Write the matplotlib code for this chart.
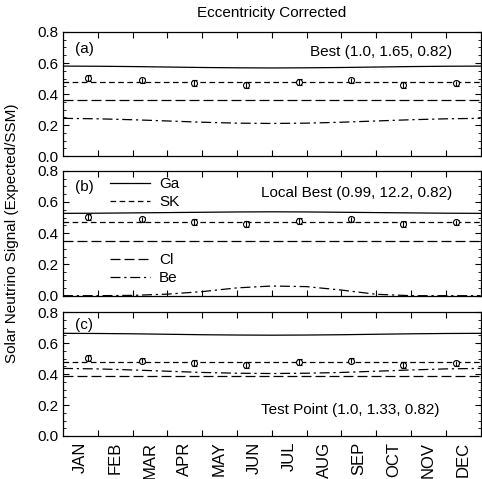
import numpy as np
import matplotlib
matplotlib.use('Agg')
import matplotlib.pyplot as plt
from matplotlib.ticker import MultipleLocator

plt.rcParams['font.family'] = ['Liberation Sans', 'DejaVu Sans']

# Месяцы и сетка по оси X (в месяцах от 1 января)
months = ['JAN', 'FEB', 'MAR', 'APR', 'MAY', 'JUN',
          'JUL', 'AUG', 'SEP', 'OCT', 'NOV', 'DEC']
grid = [0, 1, 2, 3, 4, 5, 6, 7, 8, 9, 10, 11, 12]

# Точки SK (одинаковые на всех панелях)
sk_x = [0.71, 2.26, 3.77, 5.26, 6.77, 8.29, 9.77, 11.29]
sk_y = [0.505, 0.488, 0.471, 0.458, 0.477, 0.488, 0.458, 0.469]
sk_err = [0.018, 0.018, 0.018, 0.018, 0.018, 0.018, 0.018, 0.018]

# (a) Best
ga_a = [0.580, 0.579, 0.577, 0.574, 0.571, 0.569, 0.568, 0.569, 0.571, 0.574, 0.577, 0.579, 0.580]
sk_a = [0.478] * 13
cl_a = [0.360] * 13
be_a = [0.243, 0.240, 0.234, 0.226, 0.218, 0.212, 0.210, 0.212, 0.218, 0.226, 0.234, 0.240, 0.243]

# (b) Local Best
ga_b = [0.527, 0.528, 0.530, 0.532, 0.534, 0.536, 0.537, 0.536, 0.534, 0.532, 0.530, 0.528, 0.527]
sk_b = [0.474] * 13
cl_b = [0.352] * 13
be_b = [0.000, 0.000, 0.002, 0.010, 0.026, 0.050, 0.062, 0.058, 0.036, 0.009, 0.000, 0.000, 0.000]

# (c) Test Point
ga_c = [0.664, 0.663, 0.661, 0.658, 0.655, 0.653, 0.652, 0.653, 0.655, 0.658, 0.661, 0.663, 0.664]
sk_c = [0.477] * 13
cl_c = [0.386] * 13
be_c = [0.437, 0.434, 0.427, 0.419, 0.411, 0.406, 0.404, 0.406, 0.411, 0.419, 0.427, 0.434, 0.437]

panels = [
    ('(a)', 'Best (1.0, 1.65, 0.82)', ga_a, sk_a, cl_a, be_a),
    ('(b)', 'Local Best (0.99, 12.2, 0.82)', ga_b, sk_b, cl_b, be_b),
    ('(c)', 'Test Point (1.0, 1.33, 0.82)', ga_c, sk_c, cl_c, be_c),
]

# Стили линий
st_sk = (0, (4.5, 2.8))
st_cl = (0, (8, 3.2))
st_be = (0, (8, 3.0, 1.8, 3.0))
lw = 0.9
fs = 11

fig = plt.figure(figsize=(4.82, 4.79), dpi=100)
left, right = 0.1307, 0.997
boxes = [(0.6743, 0.9332), (0.3827, 0.6436), (0.0898, 0.3480)]
label_pos = [(0.029, 0.863, 0.933, 0.839),
             (0.029, 0.872, 0.933, 0.819),
             (0.029, 0.897, 0.902, 0.210)]

axes = []
for i, (tag, name, ga, sk, cl, be) in enumerate(panels):
    b, t = boxes[i]
    ax = fig.add_axes([left, b, right - left, t - b])
    axes.append(ax)

    l_ga, = ax.plot(grid, ga, color='black', lw=lw, label='Ga')
    l_sk, = ax.plot(grid, sk, color='black', lw=lw, ls=st_sk, label='SK')
    l_cl, = ax.plot(grid, cl, color='black', lw=lw, ls=st_cl, label='Cl')
    l_be, = ax.plot(grid, be, color='black', lw=lw, ls=st_be, label='Be')

    ax.errorbar(sk_x, sk_y, yerr=sk_err, fmt='o', ms=4.3, mfc='white',
                mec='black', mew=0.8, ecolor='black', elinewidth=0.8,
                capsize=1.8, capthick=0.8, zorder=5)
    # вертикальная черта поверх кружка
    ax.errorbar(sk_x, sk_y, yerr=sk_err, fmt='none', ecolor='black',
                elinewidth=0.8, zorder=6)

    ax.set_xlim(0, 12)
    ax.set_ylim(0, 0.8)
    ax.yaxis.set_major_locator(MultipleLocator(0.2))
    ax.yaxis.set_minor_locator(MultipleLocator(0.05))
    ax.yaxis.set_major_formatter(plt.FormatStrFormatter('%.1f'))

    # Границы месяцев - короткие засечки, подписи - по центрам
    ax.set_xticks(np.arange(1, 12), minor=True)
    ax.set_xticks(np.arange(12) + 0.5)
    if i == 2:
        ax.set_xticklabels(months, rotation=90, fontsize=12)
    else:
        ax.set_xticklabels([])
    ax.tick_params(axis='x', which='major', length=0, pad=4)
    ax.tick_params(axis='x', which='minor', direction='in', length=4,
                   width=0.8, top=True, bottom=True)
    ax.tick_params(axis='y', which='major', direction='in', length=4,
                   width=0.8, left=True, right=True, labelsize=fs, pad=3)
    ax.tick_params(axis='y', which='minor', direction='in', length=2,
                   width=0.6, left=True, right=True)
    for s in ax.spines.values():
        s.set_linewidth(0.9)

    tx, ty, nx, ny = label_pos[i]
    ax.text(tx, ty, tag, transform=ax.transAxes, fontsize=fs, va='center', ha='left')
    ax.text(nx, ny, name, transform=ax.transAxes, fontsize=fs, va='center', ha='right')

    if i == 1:
        leg1 = ax.legend(handles=[l_ga, l_sk], loc='center left',
                         bbox_to_anchor=(0.113, 0.819), frameon=False,
                         fontsize=fs, handlelength=2.6, handletextpad=0.6,
                         labelspacing=0.25, borderpad=0, borderaxespad=0)
        ax.add_artist(leg1)
        ax.legend(handles=[l_cl, l_be], loc='center left',
                  bbox_to_anchor=(0.113, 0.212), frameon=False,
                  fontsize=fs, handlelength=2.6, handletextpad=0.6,
                  labelspacing=0.25, borderpad=0, borderaxespad=0)

fig.text((left + right) / 2, 0.973, 'Eccentricity Corrected', ha='center',
         va='center', fontsize=fs)
fig.text(0.025, 0.513, 'Solar Neutrino Signal (Expected/SSM)', rotation=90,
         ha='center', va='center', fontsize=fs)

fig.savefig('out.png', dpi=100)
